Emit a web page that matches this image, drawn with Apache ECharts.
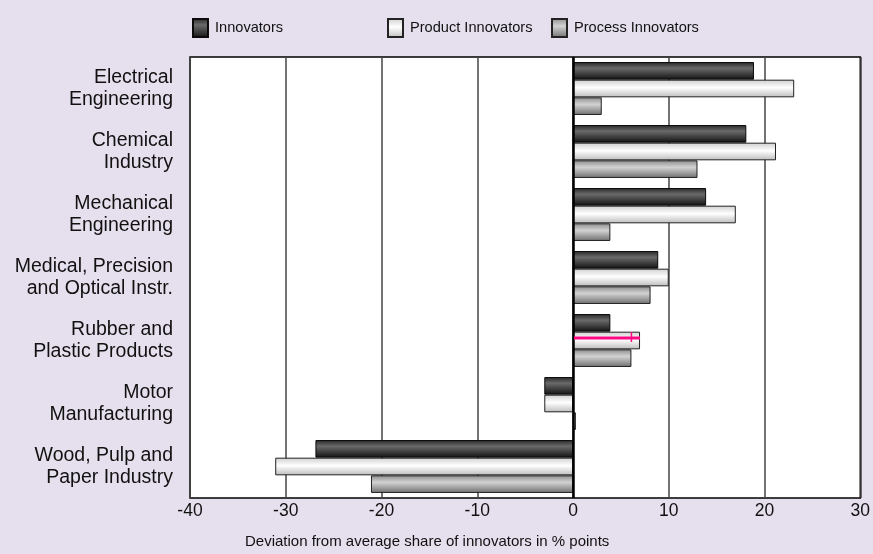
<!DOCTYPE html>
<html>
<head>
<meta charset="utf-8">
<script src="https://cdn.jsdelivr.net/npm/echarts@6/dist/echarts.min.js"></script>
<style>
  html, body { margin: 0; padding: 0; background: #e6e0ee; }
  #chart { width: 873px; height: 554px; }
</style>
</head>
<body>
<div id="chart"></div>
<script>
// Industries, top to bottom
const categories = [
  'Electrical\nEngineering',
  'Chemical\nIndustry',
  'Mechanical\nEngineering',
  'Medical, Precision\nand Optical Instr.',
  'Rubber and\nPlastic Products',
  'Motor\nManufacturing',
  'Wood, Pulp and\nPaper Industry'
];

// Deviation from average share of innovators (% points)
const innovators        = [18.9, 18.1, 13.9, 8.9, 3.9, -3.0, -26.9];
const productInnovators = [23.1, 21.2, 17.0, 10.0, 7.0, -3.0, -31.1];
const processInnovators = [3.0, 13.0, 3.9, 8.1, 6.1, 0.3, -21.1];

// Highlight marker on the product bar of Rubber and Plastic Products
const markerCategory = 4;
const markerLineEnd = 7.0;
const markerTick = 6.1;

const xTicks = { min: -40, max: 30, interval: 10 };

const FONT = '"Liberation Sans", Arial, sans-serif';

function vgrad(stops) {
  return new echarts.graphic.LinearGradient(0, 0, 0, 1,
    stops.map(s => ({ offset: s[0], color: s[1] })));
}

const darkFill = vgrad([[0, '#262626'], [0.35, '#6a6a6a'], [0.75, '#343434'], [1, '#111111']]);
const whiteFill = vgrad([[0, '#cfcfcf'], [0.45, '#ffffff'], [1, '#bcbcbc']]);
const greyFill = vgrad([[0, '#8c8c8c'], [0.4, '#d2d2d2'], [1, '#6f6f6f']]);

const chart = echarts.init(document.getElementById('chart'), null, { renderer: 'canvas' });

const legendBase = {
  top: 13,
  itemWidth: 15,
  itemHeight: 18,
  icon: 'rect',
  textStyle: { fontFamily: FONT, fontSize: 14.6, color: '#111', padding: [0, 0, 0, 2] },
  selectedMode: false
};

chart.setOption({
  backgroundColor: '#e6e0ee',
  animation: false,
  legend: [
    Object.assign({}, legendBase, { left: 187, data: ['Innovators'] }),
    Object.assign({}, legendBase, { left: 382, data: ['Product Innovators'] }),
    Object.assign({}, legendBase, { left: 546, data: ['Process Innovators'] })
  ],
  grid: {
    left: 190, right: 11, top: 57, bottom: 54,
    show: true, backgroundColor: '#ffffff', borderColor: '#000', borderWidth: 1.5,
    containLabel: false
  },
  xAxis: {
    type: 'value',
    min: xTicks.min, max: xTicks.max, interval: xTicks.interval,
    axisLine: { show: false },
    axisTick: { show: false },
    splitLine: { show: true, lineStyle: { color: '#444', width: 1.5 } },
    axisLabel: { fontFamily: FONT, fontSize: 17.5, color: '#111', margin: 4 },
    name: 'Deviation from average share of innovators in % points',
    nameLocation: 'middle',
    nameGap: 36,
    nameTextStyle: {
      fontFamily: FONT, fontSize: 15, color: '#111',
      padding: [0, 196, 0, 0]
    }
  },
  yAxis: {
    type: 'category',
    inverse: true,
    data: categories,
    axisLine: { show: false },
    axisTick: { show: false },
    splitLine: { show: false },
    axisLabel: {
      fontFamily: FONT, fontSize: 19.5, color: '#111',
      lineHeight: 22, align: 'right', margin: 17
    }
  },
  series: [
    {
      name: 'Innovators', type: 'bar', data: innovators,
      barGap: '0%', barCategoryGap: '16%',
      itemStyle: { color: darkFill, borderColor: '#0a0a0a', borderWidth: 1 },
      markLine: {
        silent: true, symbol: ['none', 'none'], label: { show: false },
        lineStyle: { color: '#000', width: 2.5, type: 'solid' },
        data: [{ xAxis: 0 }]
      }
    },
    {
      name: 'Product Innovators', type: 'bar', data: productInnovators,
      barGap: '0%', barCategoryGap: '16%',
      itemStyle: { color: whiteFill, borderColor: '#222', borderWidth: 1 }
    },
    {
      name: 'Process Innovators', type: 'bar', data: processInnovators,
      barGap: '0%', barCategoryGap: '16%',
      itemStyle: { color: greyFill, borderColor: '#222', borderWidth: 1 }
    },
    {
      name: 'marker', type: 'custom', silent: true, z: 5,
      data: [[0, markerLineEnd, markerTick, markerCategory]],
      encode: { x: [0, 1, 2], y: 3 },
      renderItem: function (params, api) {
        const start = api.coord([api.value(0), api.value(3)]);
        const end = api.coord([api.value(1), api.value(3)]);
        const tick = api.coord([api.value(2), api.value(3)]);
        const y = start[1] - 2.5;
        return {
          type: 'group',
          children: [
            { type: 'line', shape: { x1: start[0] + 1, y1: y, x2: end[0], y2: y },
              style: { stroke: '#ff0a84', lineWidth: 3 } },
            { type: 'line', shape: { x1: tick[0], y1: y - 6, x2: tick[0], y2: y + 4 },
              style: { stroke: '#ff0a84', lineWidth: 1.5 } }
          ]
        };
      }
    }
  ]
});
</script>
</body>
</html>
